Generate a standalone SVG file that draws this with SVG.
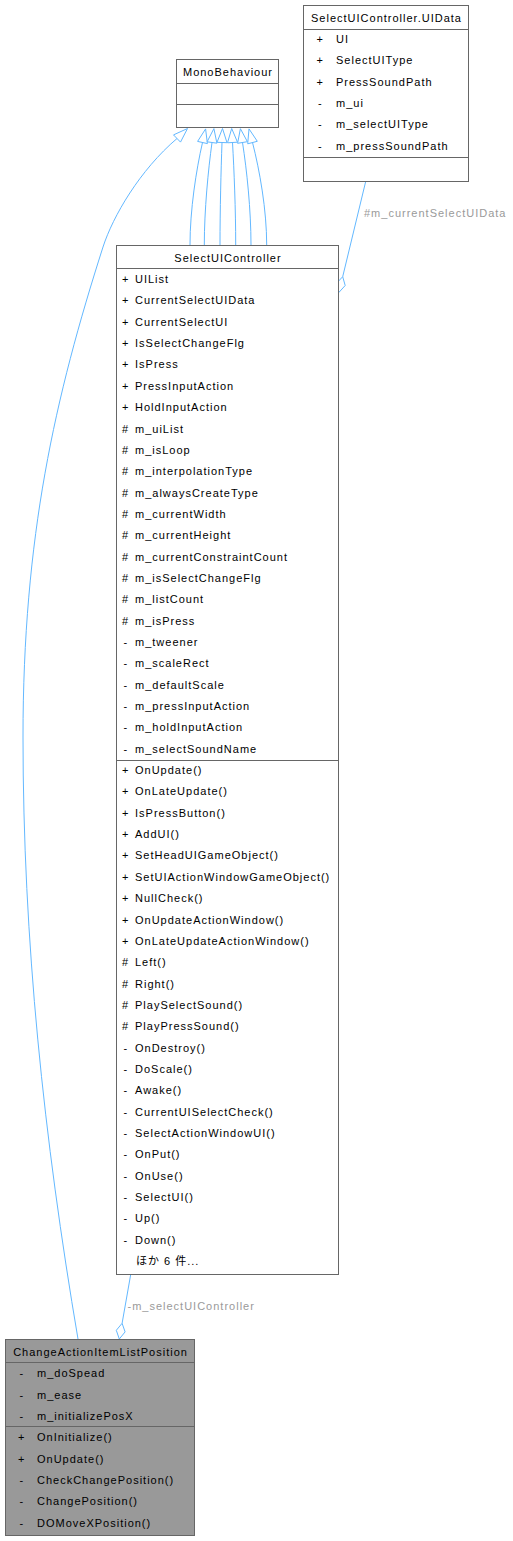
<svg xmlns="http://www.w3.org/2000/svg" width="513" height="1541" viewBox="0 0 513 1541">
<style>
text{font-family:"Liberation Sans",Arial,sans-serif;font-size:11px;letter-spacing:1px;fill:#000}
.t{text-anchor:middle}
.box{fill:#fff;stroke:#666;stroke-width:1}
.cur{fill:#999;stroke:#666;stroke-width:1}
.sep{stroke:#666;stroke-width:1;fill:none}
.edge{fill:none;stroke:#63b8ff;stroke-width:1}
.head{fill:#fff;stroke:#63b8ff;stroke-width:1}
.lbl{fill:#9a9a9a}
.jp{font-family:"Liberation Sans","Noto Sans CJK JP",sans-serif}
</style>

<g id="connectors">
  <!-- inheritance ChangeActionItemListPosition -> MonoBehaviour -->
  <path class="edge" d="M78,1339 C44,1139 23,940 23,737 C23,537 55,397 103,247 C113,216 140,170 177,138.5"/>
  <polygon class="head" points="187.5,128.5 173.5,134.9 180.5,142.1"/>
  <!-- six inheritance edges SelectUIController -> MonoBehaviour -->
  <path class="edge" d="M190,245 C190,210 196.2,170 202.5,142.5"/>
  <polygon class="head" points="205.6,128.9 207.4,143.6 197.6,141.4"/>
  <path class="edge" d="M204.3,245 C204.3,210 208.2,170 212,142.5"/>
  <polygon class="head" points="213.9,128.6 216.9,143.2 207.1,141.8"/>
  <path class="edge" d="M220,245 C220,210 221,170 222,142.5"/>
  <polygon class="head" points="222.5,128.5 227,142.7 217,142.3"/>
  <path class="edge" d="M235.7,245 C235.7,210 234.1,170 232.5,142.5"/>
  <polygon class="head" points="231.7,128.5 237.5,142.2 227.5,142.8"/>
  <path class="edge" d="M251,245 C251,210 246.8,170 242.5,142.5"/>
  <polygon class="head" points="240.4,128.7 247.4,141.7 237.6,143.3"/>
  <path class="edge" d="M266.7,245 C266.7,210 259.6,170 252.5,142.5"/>
  <polygon class="head" points="249,128.9 257.3,141.3 247.7,143.8"/>
  <!-- aggregation UIData -> SelectUIController -->
  <path class="edge" d="M365.7,181.5 L342.7,276.7"/>
  <polygon class="head" points="339,292.3 345.2,285.5 342.7,276.7 336.4,283.4"/>
  <text class="lbl" x="364" y="217">#m_currentSelectUIData</text>
  <!-- aggregation SelectUIController -> ChangeActionItemListPosition -->
  <path class="edge" d="M130.7,1274.5 L122.1,1323.3"/>
  <polygon class="head" points="119.3,1339 125.1,1331.9 122.1,1323.3 116.3,1330.3"/>
  <text class="lbl" x="127.5" y="1310">-m_selectUIController</text>
</g>

<g id="MonoBehaviour">
  <rect class="box" x="176.5" y="59.5" width="102" height="68"/>
  <path class="sep" d="M176.5,83.5 H278.5 M176.5,104.5 H278.5"/>
  <text class="t" x="228" y="75.5">MonoBehaviour</text>
</g>

<g id="SelectUIController.UIData">
  <rect class="box" x="303.5" y="5.5" width="165" height="176"/>
  <path class="sep" d="M303.5,29.5 H468.5 M303.5,157.5 H468.5"/>
  <text class="t" x="386.5" y="22.3">SelectUIController.UIData</text>
  <text x="316.5" y="43">+</text><text x="336" y="43">UI</text>
  <text x="316.5" y="64.4">+</text><text x="336" y="64.4">SelectUIType</text>
  <text x="316.5" y="85.7">+</text><text x="336" y="85.7">PressSoundPath</text>
  <text x="318" y="107.1">-</text><text x="336" y="107.1">m_ui</text>
  <text x="318" y="128.4">-</text><text x="336" y="128.4">m_selectUIType</text>
  <text x="318" y="149.8">-</text><text x="336" y="149.8">m_pressSoundPath</text>
</g>

<g id="SelectUIController">
  <rect class="box" x="116.5" y="245.5" width="222" height="1029"/>
  <path class="sep" d="M116.5,268.5 H338.5 M116.5,760.5 H338.5"/>
  <text class="t" x="228" y="262">SelectUIController</text>
  <text x="122" y="283">+</text><text x="135" y="283">UIList</text>
  <text x="122" y="304.4">+</text><text x="135" y="304.4">CurrentSelectUIData</text>
  <text x="122" y="325.7">+</text><text x="135" y="325.7">CurrentSelectUI</text>
  <text x="122" y="347.1">+</text><text x="135" y="347.1">IsSelectChangeFlg</text>
  <text x="122" y="368.4">+</text><text x="135" y="368.4">IsPress</text>
  <text x="122" y="389.8">+</text><text x="135" y="389.8">PressInputAction</text>
  <text x="122" y="411.1">+</text><text x="135" y="411.1">HoldInputAction</text>
  <text x="122" y="432.5">#</text><text x="135" y="432.5">m_uiList</text>
  <text x="122" y="453.8">#</text><text x="135" y="453.8">m_isLoop</text>
  <text x="122" y="475.2">#</text><text x="135" y="475.2">m_interpolationType</text>
  <text x="122" y="496.5">#</text><text x="135" y="496.5">m_alwaysCreateType</text>
  <text x="122" y="517.9">#</text><text x="135" y="517.9">m_currentWidth</text>
  <text x="122" y="539.2">#</text><text x="135" y="539.2">m_currentHeight</text>
  <text x="122" y="560.6">#</text><text x="135" y="560.6">m_currentConstraintCount</text>
  <text x="122" y="581.9">#</text><text x="135" y="581.9">m_isSelectChangeFlg</text>
  <text x="122" y="603.3">#</text><text x="135" y="603.3">m_listCount</text>
  <text x="122" y="624.6">#</text><text x="135" y="624.6">m_isPress</text>
  <text x="123.5" y="646">-</text><text x="135" y="646">m_tweener</text>
  <text x="123.5" y="667.3">-</text><text x="135" y="667.3">m_scaleRect</text>
  <text x="123.5" y="688.7">-</text><text x="135" y="688.7">m_defaultScale</text>
  <text x="123.5" y="710">-</text><text x="135" y="710">m_pressInputAction</text>
  <text x="123.5" y="731.4">-</text><text x="135" y="731.4">m_holdInputAction</text>
  <text x="123.5" y="752.7">-</text><text x="135" y="752.7">m_selectSoundName</text>
  <text x="122" y="774">+</text><text x="135" y="774">OnUpdate()</text>
  <text x="122" y="795.4">+</text><text x="135" y="795.4">OnLateUpdate()</text>
  <text x="122" y="816.7">+</text><text x="135" y="816.7">IsPressButton()</text>
  <text x="122" y="838.1">+</text><text x="135" y="838.1">AddUI()</text>
  <text x="122" y="859.4">+</text><text x="135" y="859.4">SetHeadUIGameObject()</text>
  <text x="122" y="880.8">+</text><text x="135" y="880.8">SetUIActionWindowGameObject()</text>
  <text x="122" y="902.1">+</text><text x="135" y="902.1">NullCheck()</text>
  <text x="122" y="923.5">+</text><text x="135" y="923.5">OnUpdateActionWindow()</text>
  <text x="122" y="944.8">+</text><text x="135" y="944.8">OnLateUpdateActionWindow()</text>
  <text x="122" y="966.2">#</text><text x="135" y="966.2">Left()</text>
  <text x="122" y="987.5">#</text><text x="135" y="987.5">Right()</text>
  <text x="122" y="1008.9">#</text><text x="135" y="1008.9">PlaySelectSound()</text>
  <text x="122" y="1030.2">#</text><text x="135" y="1030.2">PlayPressSound()</text>
  <text x="123.5" y="1051.6">-</text><text x="135" y="1051.6">OnDestroy()</text>
  <text x="123.5" y="1072.9">-</text><text x="135" y="1072.9">DoScale()</text>
  <text x="123.5" y="1094.3">-</text><text x="135" y="1094.3">Awake()</text>
  <text x="123.5" y="1115.6">-</text><text x="135" y="1115.6">CurrentUISelectCheck()</text>
  <text x="123.5" y="1137">-</text><text x="135" y="1137">SelectActionWindowUI()</text>
  <text x="123.5" y="1158.3">-</text><text x="135" y="1158.3">OnPut()</text>
  <text x="123.5" y="1179.7">-</text><text x="135" y="1179.7">OnUse()</text>
  <text x="123.5" y="1201">-</text><text x="135" y="1201">SelectUI()</text>
  <text x="123.5" y="1222.4">-</text><text x="135" y="1222.4">Up()</text>
  <text x="123.5" y="1243.7">-</text><text x="135" y="1243.7">Down()</text>
  <text class="jp" x="136" y="1265">ほか 6 件...</text>
</g>

<g id="ChangeActionItemListPosition">
  <rect class="cur" x="5.5" y="1339.5" width="189" height="196"/>
  <path class="sep" d="M5.5,1362.5 H194.5 M5.5,1426.5 H194.5"/>
  <text class="t" x="100.5" y="1355.7">ChangeActionItemListPosition</text>
  <text x="19.5" y="1377.3">-</text><text x="37" y="1377.3">m_doSpead</text>
  <text x="19.5" y="1398.7">-</text><text x="37" y="1398.7">m_ease</text>
  <text x="19.5" y="1420">-</text><text x="37" y="1420">m_initializePosX</text>
  <text x="18" y="1441.3">+</text><text x="37" y="1441.3">OnInitialize()</text>
  <text x="18" y="1462.7">+</text><text x="37" y="1462.7">OnUpdate()</text>
  <text x="19.5" y="1484">-</text><text x="37" y="1484">CheckChangePosition()</text>
  <text x="19.5" y="1505.4">-</text><text x="37" y="1505.4">ChangePosition()</text>
  <text x="19.5" y="1526.7">-</text><text x="37" y="1526.7">DOMoveXPosition()</text>
</g>
</svg>
